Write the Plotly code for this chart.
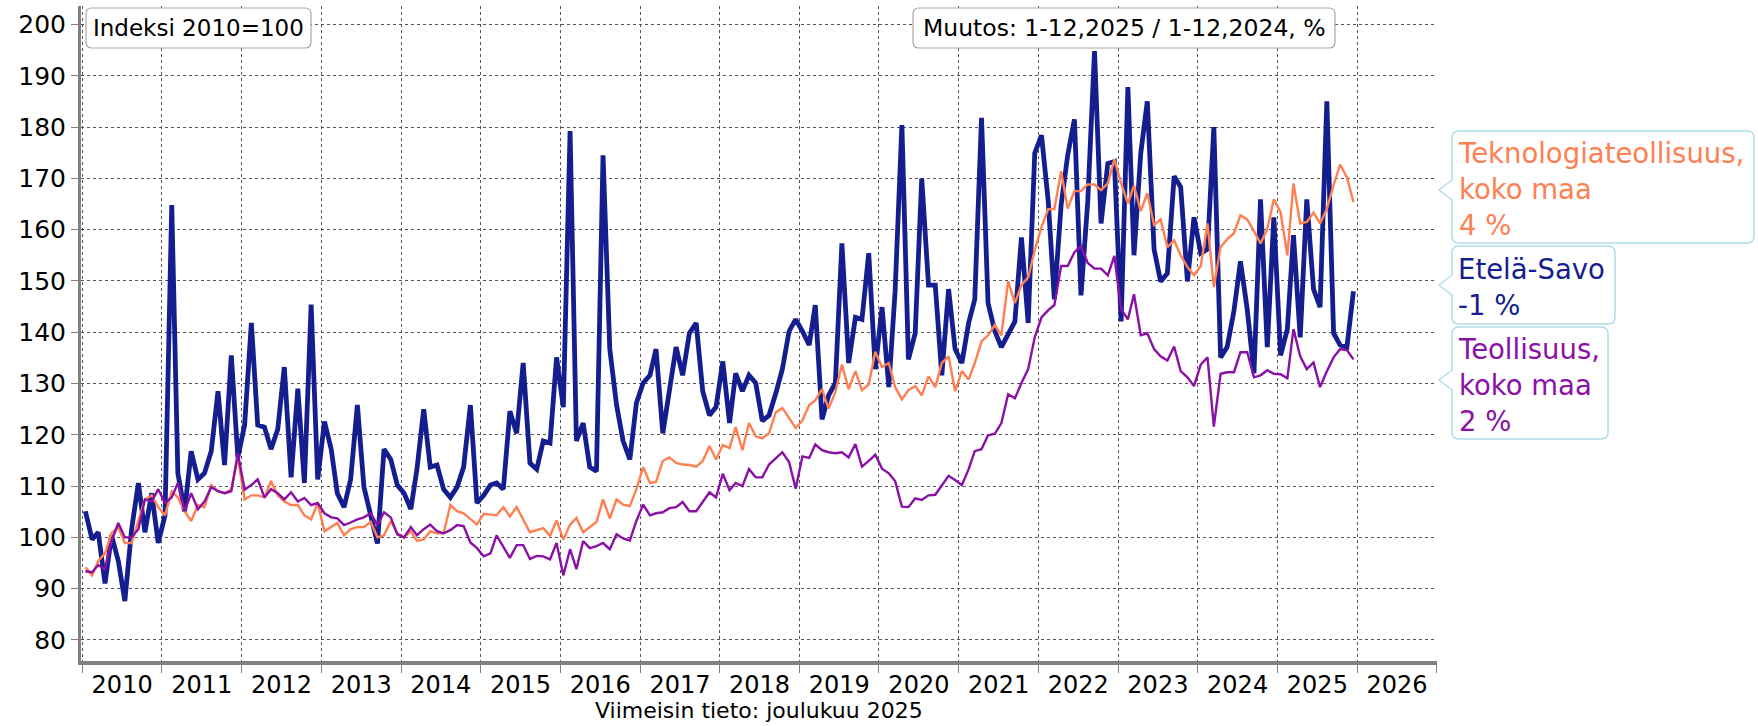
import pandas as pd
import plotly.graph_objects as go

# ---------------- data ----------------
months = pd.date_range("2010-01-01", periods=192, freq="MS") + pd.Timedelta(days=14)

etela_savo = [
    105.1, 99.6, 101.0, 91.0, 100.4, 95.4, 87.6, 101.6, 110.6, 101.0, 108.6, 98.9,
    104.3, 164.8, 112.5, 105.1, 116.8, 111.3, 112.5, 116.8, 128.5, 114.1, 135.5, 115.6,
    121.9, 141.8, 121.9, 121.5, 117.2, 121.1, 133.2, 111.7, 129.0, 110.6, 145.4, 111.3,
    122.6, 117.2, 108.6, 105.9, 111.3, 125.8, 109.8, 103.9, 98.8, 117.2, 115.2, 110.2,
    108.6, 105.5, 113.3, 125.0, 113.7, 114.1, 109.4, 107.8, 109.8, 113.7, 125.8, 106.7,
    108.2, 110.2, 110.6, 109.4, 124.6, 120.3, 134.0, 114.5, 113.3, 118.8, 118.4, 135.1,
    125.4, 179.2, 118.8, 122.3, 113.7, 112.9, 174.5, 136.7, 125.8, 118.8, 115.2, 126.2,
    130.1, 131.6, 136.7, 120.3, 128.9, 137.1, 131.6, 139.8, 141.8, 128.5, 123.8, 125.4,
    134.3, 122.3, 132.0, 128.5, 131.6, 130.1, 122.7, 123.8, 128.1, 132.8, 140.2, 142.5,
    140.2, 137.5, 145.3, 123.0, 127.7, 130.1, 157.3, 134.0, 142.9, 142.5, 155.4, 132.8,
    144.9, 129.3, 148.0, 180.4, 134.7, 139.8, 170.0, 149.2, 149.2, 131.6, 148.4, 136.7,
    134.0, 141.8, 146.4, 181.8, 145.7, 140.2, 137.1, 139.8, 142.1, 158.5, 141.8, 174.9,
    178.4, 165.5, 146.4, 164.8, 174.5, 181.5, 147.2, 165.5, 194.8, 161.2, 172.9, 173.3,
    142.1, 187.8, 155.0, 174.9, 185.0, 156.2, 149.9, 151.5, 170.4, 168.3, 149.9, 162.4,
    155.4, 156.2, 180.0, 135.1, 137.1, 144.1, 153.8, 144.5, 132.0, 165.9, 137.1, 162.4,
    135.5, 140.6, 158.9, 139.0, 165.9, 148.4, 144.9, 185.0, 139.8, 137.5, 137.1, 148.0,
]

teknologia = [
    94.2, 92.6, 95.4, 96.9, 100.8, 102.0, 98.9, 98.9, 103.2, 107.4, 108.2, 105.9,
    104.3, 109.0, 107.8, 105.1, 103.2, 106.3, 105.9, 110.2, 109.0, 108.6, 109.4, 115.6,
    107.4, 108.2, 108.2, 107.8, 111.0, 108.2, 107.0, 106.3, 106.3, 104.3, 103.5, 106.7,
    101.2, 102.0, 102.8, 100.4, 101.6, 102.0, 102.0, 103.0, 100.0, 100.4, 103.2, 100.8,
    100.0, 101.2, 99.3, 99.6, 101.2, 100.8, 100.8, 106.3, 105.1, 104.7, 103.5, 102.5,
    104.6, 104.5, 104.3, 105.9, 104.1, 105.9, 103.5, 101.0, 101.4, 101.8, 100.3, 103.3,
    99.6, 102.5, 103.8, 101.0, 102.0, 103.0, 107.4, 103.7, 107.4, 106.4, 106.1, 109.4,
    113.7, 110.6, 110.8, 114.9, 115.6, 114.5, 114.2, 114.1, 113.8, 114.9, 117.8, 115.2,
    118.0, 117.4, 121.5, 117.0, 122.3, 119.7, 119.3, 120.3, 124.4, 125.2, 123.3, 121.3,
    122.8, 125.8, 126.7, 128.9, 125.1, 128.3, 133.7, 128.9, 132.4, 128.7, 129.8, 136.2,
    133.2, 134.0, 129.3, 126.9, 128.7, 129.5, 127.7, 131.4, 129.3, 134.0, 135.3, 128.5,
    132.4, 130.8, 134.0, 138.2, 139.4, 141.4, 139.4, 149.9, 145.7, 149.2, 150.7, 156.0,
    160.5, 164.0, 164.0, 171.4, 164.1, 167.5, 167.5, 168.8, 168.8, 167.7, 169.0, 173.7,
    169.0, 165.1, 168.6, 163.6, 167.1, 160.9, 162.0, 156.6, 157.9, 155.0, 152.7, 151.1,
    152.9, 161.2, 148.8, 156.6, 158.1, 159.3, 162.8, 162.0, 159.7, 157.3, 160.1, 165.9,
    163.4, 155.0, 169.0, 161.2, 161.5, 163.3, 161.2, 164.0, 168.7, 172.7, 170.2, 165.4,
]

teollisuus = [
    93.4, 93.2, 94.6, 93.8, 99.3, 102.8, 100.0, 100.0, 101.6, 107.4, 107.0, 109.4,
    106.7, 107.8, 110.6, 105.1, 108.6, 105.5, 107.0, 109.8, 109.0, 108.6, 109.0, 116.4,
    109.3, 110.2, 111.3, 107.8, 109.4, 108.6, 107.4, 108.8, 107.0, 107.7, 106.3, 106.7,
    104.7, 103.9, 103.7, 102.4, 102.9, 103.5, 103.9, 104.7, 102.4, 104.9, 103.9, 100.6,
    100.0, 102.0, 100.4, 101.6, 102.5, 101.2, 100.8, 101.4, 102.4, 102.2, 99.0, 97.9,
    96.3, 96.9, 100.4, 98.1, 96.0, 98.5, 98.5, 95.8, 96.4, 96.3, 95.7, 98.9,
    92.6, 97.7, 93.8, 99.3, 97.9, 98.3, 98.9, 97.7, 100.6, 99.8, 99.4, 103.2,
    106.4, 104.3, 104.7, 104.9, 105.7, 105.9, 106.9, 105.1, 105.1, 106.9, 108.8, 107.8,
    112.4, 109.2, 110.6, 110.0, 113.3, 111.7, 111.7, 114.2, 115.5, 116.6, 114.7, 109.5,
    115.8, 115.5, 118.1, 117.0, 116.6, 116.4, 116.6, 115.6, 118.2, 113.8, 114.9, 116.1,
    113.4, 112.5, 111.0, 106.0, 105.9, 107.6, 107.3, 108.2, 108.3, 110.2, 112.0, 111.2,
    110.2, 113.3, 116.8, 117.2, 119.9, 120.2, 122.3, 127.9, 127.1, 130.1, 132.8, 139.0,
    142.9, 144.3, 145.3, 152.9, 152.9, 155.6, 156.8, 153.5, 152.4, 152.4, 151.1, 154.9,
    144.5, 142.5, 147.4, 139.4, 139.8, 136.7, 135.3, 134.5, 137.2, 132.4, 131.2, 129.5,
    133.7, 135.1, 121.6, 131.9, 132.2, 132.2, 136.1, 136.1, 131.2, 131.6, 132.6, 131.9,
    131.8, 131.0, 140.6, 135.3, 132.8, 134.1, 129.3, 132.4, 135.1, 136.7, 136.5, 134.7,
]

series_names = ["Teknologiateollisuus,<br>koko maa", "Etelä-Savo", "Teollisuus,<br>koko maa"]
changes = ["4 %", "-1 %", "2 %"]
y_ticks = list(range(80, 201, 10))

# ---------------- style ----------------
BLUE = "#141E8E"
ORANGE = "#FF7F50"
PURPLE = "#8A10A6"
FONT = "DejaVu Sans"

W, H = 1758, 726
L, R, T, B = 81, 321, 6, 65
PW, PH = W - L - R, H - T - B


def px(x):
    return (x - L) / PW


def py(y):
    return (H - B - y) / PH


def P(x, y):
    return f"{px(x):.5f},{py(y):.5f}"


def box_path(x0, y0, x1, y1, r=6, tip=None):
    s = f"M {P(x0 + r, y0)} L {P(x1 - r, y0)} Q {P(x1, y0)} {P(x1, y0 + r)} "
    s += f"L {P(x1, y1 - r)} Q {P(x1, y1)} {P(x1 - r, y1)} "
    s += f"L {P(x0 + r, y1)} Q {P(x0, y1)} {P(x0, y1 - r)} "
    if tip is not None:
        tx, ty = tip
        s += f"L {P(x0, ty + 10)} L {P(tx, ty)} L {P(x0, ty - 10)} "
    s += f"L {P(x0, y0 + r)} Q {P(x0, y0)} {P(x0 + r, y0)} Z"
    return s


fig = go.Figure()
fig.add_trace(go.Scatter(x=months, y=etela_savo, mode="lines",
                         line=dict(color=BLUE, width=4.8), name="Etelä-Savo"))
fig.add_trace(go.Scatter(x=months, y=teknologia, mode="lines",
                         line=dict(color=ORANGE, width=2.4), name="Teknologiateollisuus"))
fig.add_trace(go.Scatter(x=months, y=teollisuus, mode="lines",
                         line=dict(color=PURPLE, width=2.4), name="Teollisuus"))

shapes = []
annotations = []

# top boxes
shapes.append(dict(type="path", xref="paper", yref="paper", path=box_path(86, 8, 311, 48),
                   line=dict(color="#A8A8A8", width=1.2), fillcolor="white", layer="above"))
annotations.append(dict(x=px(198.5), y=py(28), xref="paper", yref="paper", text="Indeksi 2010=100",
                        showarrow=False, xanchor="center", yanchor="middle",
                        font=dict(family=FONT, size=23, color="black")))
shapes.append(dict(type="path", xref="paper", yref="paper", path=box_path(913, 8, 1335, 48),
                   line=dict(color="#A8A8A8", width=1.2), fillcolor="white", layer="above"))
annotations.append(dict(x=px(1124), y=py(28), xref="paper", yref="paper",
                        text="Muutos: 1-12,2025 / 1-12,2024, %",
                        showarrow=False, xanchor="center", yanchor="middle",
                        font=dict(family=FONT, size=23.5, color="black")))

# right callouts
callouts = [
    (1452, 131, 1754, 243, 190, ORANGE),
    (1452, 246, 1615, 324, 285, BLUE),
    (1452, 327, 1608, 439, 380, PURPLE),
]
for (x0, y0, x1, y1, ty, col), name, ch in zip(callouts, series_names, changes):
    shapes.append(dict(type="path", xref="paper", yref="paper",
                       path=box_path(x0, y0, x1, y1, r=7, tip=(1439, ty)),
                       line=dict(color="#B0DCE8", width=1.5), fillcolor="white", layer="above"))
    annotations.append(dict(x=px(x0 + 4), y=py((y0 + y1) / 2 + 2), xref="paper", yref="paper",
                            text=f"{name}<br>{ch}", showarrow=False, align="left",
                            xanchor="left", yanchor="middle",
                            font=dict(family=FONT, size=27.5, color=col)))

annotations.append(dict(x=0.5, y=py(711), xref="paper", yref="paper",
                        text="Viimeisin tieto: joulukuu 2025", showarrow=False,
                        xanchor="center", yanchor="middle",
                        font=dict(family=FONT, size=22, color="black")))

fig.update_layout(
    width=W, height=H,
    margin=dict(l=L, r=R, t=T, b=B, autoexpand=False),
    paper_bgcolor="white", plot_bgcolor="white",
    showlegend=False,
    font=dict(family=FONT, color="black"),
    shapes=shapes, annotations=annotations,
    xaxis=dict(
        type="date", range=["2009-12-26", "2027-01-02"],
        tick0="2010-01-01", dtick="M12", tickformat="%Y", ticklabelmode="period",
        showgrid=True, gridcolor="#555555", griddash="dot", gridwidth=1,
        showline=True, linecolor="#808080", linewidth=4,
        ticks="outside", ticklen=8, tickcolor="#808080",
        ticklabelstandoff=-9,
        tickfont=dict(family=FONT, size=24, color="black"),
        automargin=False, zeroline=False,
    ),
    yaxis=dict(
        range=[75.9, 203.6], tickmode="array", tickvals=y_ticks,
        showgrid=True, gridcolor="#555555", griddash="dot", gridwidth=1,
        showline=True, linecolor="#808080", linewidth=3,
        ticks="outside", ticklen=7, tickcolor="#808080",
        tickfont=dict(family=FONT, size=25, color="black"),
        automargin=False, zeroline=False,
    ),
)

fig.write_html("out.html", config={"displayModeBar": False},
               post_script="document.body.style.margin='0';document.body.style.overflow='hidden';")
